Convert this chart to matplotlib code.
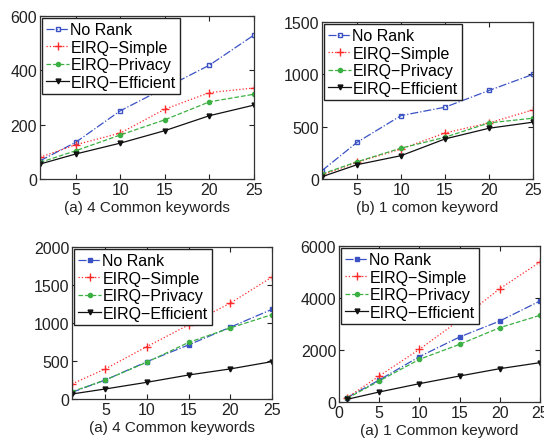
import matplotlib.pyplot as plt

plt.rcParams['font.family'] = ['Liberation Sans', 'DejaVu Sans']

x_top = [1, 5, 10, 15, 20, 25]
x_bot = [1, 5, 10, 15, 20, 25]

# (a) 4 common keywords, top
tl_norank = [67, 135, 251, 335, 419, 530]
tl_simple = [80, 126, 169, 257, 318, 335]
tl_privacy = [61, 104, 162, 218, 284, 312]
tl_efficient = [55, 92, 132, 178, 233, 272]

# (b) 1 comon keyword
tr_norank = [80, 351, 606, 686, 846, 1000]
tr_simple = [38, 160, 287, 440, 536, 660]
tr_privacy = [48, 165, 295, 399, 536, 581]
tr_efficient = [22, 137, 223, 383, 485, 543]

# (a) 4 common keywords, bottom
bl_norank = [88, 250, 492, 712, 945, 1180]
bl_simple = [198, 396, 690, 976, 1262, 1604]
bl_privacy = [97, 250, 485, 745, 935, 1110]
bl_efficient = [66, 132, 220, 316, 396, 492]

# (a) 1 common keyword
br_norank = [167, 846, 1744, 2500, 3115, 3885]
br_simple = [167, 1000, 2026, 3150, 4359, 5385]
br_privacy = [141, 808, 1641, 2218, 2859, 3333]
br_efficient = [103, 385, 705, 1000, 1282, 1513]

labels = ['No Rank', 'EIRQ\u2212Simple', 'EIRQ\u2212Privacy', 'EIRQ\u2212Efficient']
styles = [
    dict(color='#3a52c4', ls='-.', marker='s', ms=3.5),
    dict(color='#ff2a2a', ls=':', marker='+', ms=6),
    dict(color='#3cb043', ls='--', marker='o', ms=3),
    dict(color='#111111', ls='-', marker='v', ms=3.5),
]

W, H = 544, 439
fig = plt.figure(figsize=(W / 100, H / 100), dpi=100)


def make_ax(l, r, t, b):
    return fig.add_axes([l / W, 1 - b / H, (r - l) / W, (b - t) / H])


panels = [
    (make_ax(40, 254, 17, 180), x_top, [tl_norank, tl_simple, tl_privacy, tl_efficient],
     (1, 25), (0, 600), [0, 200, 400, 600], [5, 10, 15, 20, 25], '(a) 4 Common keywords', True),
    (make_ax(322, 533, 23, 180), x_top, [tr_norank, tr_simple, tr_privacy, tr_efficient],
     (1, 25), (0, 1500), [0, 500, 1000, 1500], [5, 10, 15, 20, 25], '(b) 1 comon keyword', True),
    (make_ax(72, 272, 248, 400), x_bot, [bl_norank, bl_simple, bl_privacy, bl_efficient],
     (1, 25), (0, 2000), [0, 500, 1000, 1500, 2000], [5, 10, 15, 20, 25], '(a) 4 Common keywords', False),
    (make_ax(339, 540, 247, 403), x_bot, [br_norank, br_simple, br_privacy, br_efficient],
     (0, 25), (0, 6000), [0, 2000, 4000, 6000], [0, 5, 10, 15, 20, 25], '(a) 1 Common keyword', False),
]

for ax, xs, series, xl, yl, yt, xt, cap, hollow in panels:
    for k, (ys, st) in enumerate(zip(series, styles)):
        mfc = 'none' if (hollow and k == 0) else st['color']
        ax.plot(xs, ys, color=st['color'], linestyle=st['ls'], linewidth=0.9,
                marker=st['marker'], markersize=st['ms'], markerfacecolor=mfc,
                markeredgewidth=1.0, label=labels[k])
    ax.set_xlim(*xl)
    ax.set_ylim(*yl)
    ax.set_yticks(yt)
    ax.set_xticks(xt)
    ax.tick_params(direction='in', length=3.5, top=True, right=True,
                   labelsize=11.5, pad=2, colors='#222222')
    for sp in ax.spines.values():
        sp.set_color('#333333')
        sp.set_linewidth(0.9)
    ax.set_xlabel(cap, fontsize=11, labelpad=2, color='#222222')
    leg = ax.legend(loc='upper left', fontsize=11.5, handlelength=1.4, handletextpad=0.1,
                    borderaxespad=0.15, borderpad=0.25, labelspacing=0.15,
                    fancybox=False, framealpha=1)
    leg.get_frame().set_edgecolor('#222222')
    leg.get_frame().set_linewidth(1.0)

fig.savefig('out.png', dpi=100)
